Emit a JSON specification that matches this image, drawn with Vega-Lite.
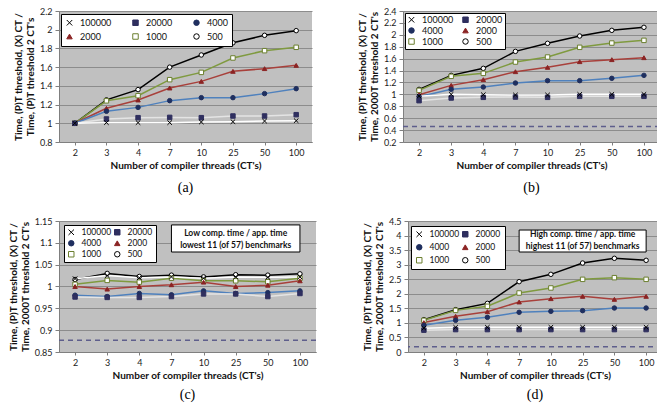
{
  "$schema": "https://vega.github.io/schema/vega-lite/v6.json",
  "background": "white",
  "padding": {"left": 8, "top": 7, "right": 5, "bottom": 2},
  "config": {
    "font": "Lato",
    "view": {"fill": "#c0c0c0", "stroke": null},
    "axis": {"labelFontSize": 9, "labelColor": "#222222", "titleFontSize": 10, "titleFontWeight": "bold", "titleColor": "#111111", "domainColor": "#7f7f7f", "tickColor": "#7f7f7f", "gridColor": "#8c8c8c"},
    "axisX": {"grid": false, "labelAngle": 0, "labelPadding": 3, "titlePadding": 3, "tickSize": 3},
    "axisY": {"grid": true, "tickSize": 4, "titlePadding": 4, "labelPadding": 3, "tickCount": 40},
    "legend": {"fillColor": "white", "strokeColor": "#000000", "padding": 4, "labelFontSize": 9, "labelColor": "#111111", "symbolSize": 30, "symbolStrokeWidth": 1, "labelOffset": 6, "columnPadding": 14, "rowPadding": 1, "symbolOpacity": 1},
    "title": {"orient": "bottom", "font": "Liberation Serif", "fontSize": 14, "fontWeight": "normal", "color": "#000000", "offset": 11}
  },
  "datasets": {
    "a": [
      {"s":"500","x":"2","v":1.0},{"s":"500","x":"3","v":1.25},{"s":"500","x":"4","v":1.36},{"s":"500","x":"7","v":1.6},{"s":"500","x":"10","v":1.73},{"s":"500","x":"25","v":1.86},{"s":"500","x":"50","v":1.94},{"s":"500","x":"100","v":1.99},
      {"s":"1000","x":"2","v":1.0},{"s":"1000","x":"3","v":1.24},{"s":"1000","x":"4","v":1.295},{"s":"1000","x":"7","v":1.466},{"s":"1000","x":"10","v":1.544},{"s":"1000","x":"25","v":1.698},{"s":"1000","x":"50","v":1.776},{"s":"1000","x":"100","v":1.812},
      {"s":"2000","x":"2","v":1.0},{"s":"2000","x":"3","v":1.16},{"s":"2000","x":"4","v":1.249},{"s":"2000","x":"7","v":1.377},{"s":"2000","x":"10","v":1.448},{"s":"2000","x":"25","v":1.555},{"s":"2000","x":"50","v":1.584},{"s":"2000","x":"100","v":1.619},
      {"s":"4000","x":"2","v":1.0},{"s":"4000","x":"3","v":1.128},{"s":"4000","x":"4","v":1.17},{"s":"4000","x":"7","v":1.242},{"s":"4000","x":"10","v":1.274},{"s":"4000","x":"25","v":1.274},{"s":"4000","x":"50","v":1.317},{"s":"4000","x":"100","v":1.37},
      {"s":"20000","x":"2","v":1.0},{"s":"20000","x":"3","v":1.046},{"s":"20000","x":"4","v":1.06},{"s":"20000","x":"7","v":1.063},{"s":"20000","x":"10","v":1.06},{"s":"20000","x":"25","v":1.078},{"s":"20000","x":"50","v":1.078},{"s":"20000","x":"100","v":1.092},
      {"s":"100000","x":"2","v":1.0},{"s":"100000","x":"3","v":1.007},{"s":"100000","x":"4","v":1.007},{"s":"100000","x":"7","v":1.007},{"s":"100000","x":"10","v":1.014},{"s":"100000","x":"25","v":1.017},{"s":"100000","x":"50","v":1.024},{"s":"100000","x":"100","v":1.028}
    ],
    "b": [
      {"s":"500","x":"2","v":1.084},{"s":"500","x":"3","v":1.319},{"s":"500","x":"4","v":1.437},{"s":"500","x":"7","v":1.722},{"s":"500","x":"10","v":1.857},{"s":"500","x":"25","v":1.98},{"s":"500","x":"50","v":2.075},{"s":"500","x":"100","v":2.126},
      {"s":"1000","x":"2","v":1.067},{"s":"1000","x":"3","v":1.303},{"s":"1000","x":"4","v":1.353},{"s":"1000","x":"7","v":1.543},{"s":"1000","x":"10","v":1.627},{"s":"1000","x":"25","v":1.79},{"s":"1000","x":"50","v":1.862},{"s":"1000","x":"100","v":1.907},
      {"s":"2000","x":"2","v":0.995},{"s":"2000","x":"3","v":1.151},{"s":"2000","x":"4","v":1.247},{"s":"2000","x":"7","v":1.381},{"s":"2000","x":"10","v":1.454},{"s":"2000","x":"25","v":1.549},{"s":"2000","x":"50","v":1.583},{"s":"2000","x":"100","v":1.616},
      {"s":"4000","x":"2","v":0.961},{"s":"4000","x":"3","v":1.084},{"s":"4000","x":"4","v":1.123},{"s":"4000","x":"7","v":1.19},{"s":"4000","x":"10","v":1.23},{"s":"4000","x":"25","v":1.23},{"s":"4000","x":"50","v":1.269},{"s":"4000","x":"100","v":1.319},
      {"s":"20000","x":"2","v":0.894},{"s":"20000","x":"3","v":0.939},{"s":"20000","x":"4","v":0.95},{"s":"20000","x":"7","v":0.955},{"s":"20000","x":"10","v":0.95},{"s":"20000","x":"25","v":0.967},{"s":"20000","x":"50","v":0.967},{"s":"20000","x":"100","v":0.967},
      {"s":"100000","x":"2","v":0.97},{"s":"100000","x":"3","v":1.0},{"s":"100000","x":"4","v":0.995},{"s":"100000","x":"7","v":0.99},{"s":"100000","x":"10","v":0.99},{"s":"100000","x":"25","v":1.0},{"s":"100000","x":"50","v":1.0},{"s":"100000","x":"100","v":1.0}
    ],
    "c": [
      {"s":"500","x":"2","v":1.016},{"s":"500","x":"3","v":1.03},{"s":"500","x":"4","v":1.023},{"s":"500","x":"7","v":1.026},{"s":"500","x":"10","v":1.022},{"s":"500","x":"25","v":1.027},{"s":"500","x":"50","v":1.026},{"s":"500","x":"100","v":1.029},
      {"s":"1000","x":"2","v":1.005},{"s":"1000","x":"3","v":1.014},{"s":"1000","x":"4","v":1.01},{"s":"1000","x":"7","v":1.019},{"s":"1000","x":"10","v":1.013},{"s":"1000","x":"25","v":1.013},{"s":"1000","x":"50","v":1.011},{"s":"1000","x":"100","v":1.019},
      {"s":"2000","x":"2","v":1.0},{"s":"2000","x":"3","v":0.994},{"s":"2000","x":"4","v":1.0},{"s":"2000","x":"7","v":1.004},{"s":"2000","x":"10","v":1.01},{"s":"2000","x":"25","v":1.0},{"s":"2000","x":"50","v":1.003},{"s":"2000","x":"100","v":1.013},
      {"s":"4000","x":"2","v":0.98},{"s":"4000","x":"3","v":0.977},{"s":"4000","x":"4","v":0.984},{"s":"4000","x":"7","v":0.981},{"s":"4000","x":"10","v":0.99},{"s":"4000","x":"25","v":0.984},{"s":"4000","x":"50","v":0.986},{"s":"4000","x":"100","v":0.99},
      {"s":"20000","x":"2","v":0.976},{"s":"20000","x":"3","v":0.975},{"s":"20000","x":"4","v":0.975},{"s":"20000","x":"7","v":0.977},{"s":"20000","x":"10","v":0.983},{"s":"20000","x":"25","v":0.983},{"s":"20000","x":"50","v":0.977},{"s":"20000","x":"100","v":0.984},
      {"s":"100000","x":"2","v":1.018},{"s":"100000","x":"3","v":1.025},{"s":"100000","x":"4","v":1.02},{"s":"100000","x":"7","v":1.022},{"s":"100000","x":"10","v":1.019},{"s":"100000","x":"25","v":1.022},{"s":"100000","x":"50","v":1.021},{"s":"100000","x":"100","v":1.022}
    ],
    "d": [
      {"s":"500","x":"2","v":1.11},{"s":"500","x":"3","v":1.454},{"s":"500","x":"4","v":1.67},{"s":"500","x":"7","v":2.416},{"s":"500","x":"10","v":2.668},{"s":"500","x":"25","v":3.057},{"s":"500","x":"50","v":3.218},{"s":"500","x":"100","v":3.149},
      {"s":"1000","x":"2","v":1.088},{"s":"1000","x":"3","v":1.43},{"s":"1000","x":"4","v":1.57},{"s":"1000","x":"7","v":2.027},{"s":"1000","x":"10","v":2.2},{"s":"1000","x":"25","v":2.496},{"s":"1000","x":"50","v":2.553},{"s":"1000","x":"100","v":2.496},
      {"s":"2000","x":"2","v":1.01},{"s":"2000","x":"3","v":1.225},{"s":"2000","x":"4","v":1.385},{"s":"2000","x":"7","v":1.717},{"s":"2000","x":"10","v":1.832},{"s":"2000","x":"25","v":1.912},{"s":"2000","x":"50","v":1.809},{"s":"2000","x":"100","v":1.912},
      {"s":"4000","x":"2","v":0.916},{"s":"4000","x":"3","v":1.088},{"s":"4000","x":"4","v":1.19},{"s":"4000","x":"7","v":1.363},{"s":"4000","x":"10","v":1.397},{"s":"4000","x":"25","v":1.42},{"s":"4000","x":"50","v":1.511},{"s":"4000","x":"100","v":1.511},
      {"s":"20000","x":"2","v":0.75},{"s":"20000","x":"3","v":0.77},{"s":"20000","x":"4","v":0.77},{"s":"20000","x":"7","v":0.77},{"s":"20000","x":"10","v":0.77},{"s":"20000","x":"25","v":0.77},{"s":"20000","x":"50","v":0.77},{"s":"20000","x":"100","v":0.77},
      {"s":"100000","x":"2","v":0.82},{"s":"100000","x":"3","v":0.85},{"s":"100000","x":"4","v":0.85},{"s":"100000","x":"7","v":0.85},{"s":"100000","x":"10","v":0.85},{"s":"100000","x":"25","v":0.85},{"s":"100000","x":"50","v":0.85},{"s":"100000","x":"100","v":0.85}
    ]
  },
  "resolve": {"scale": {"color": "independent", "shape": "independent", "fill": "independent", "stroke": "independent"}, "legend": {"color": "independent", "shape": "independent", "fill": "independent", "stroke": "independent"}},
  "vconcat": [
    {"resolve": {"scale": {"color": "independent", "shape": "independent", "fill": "independent", "stroke": "independent"}, "legend": {"color": "independent", "shape": "independent", "fill": "independent", "stroke": "independent"}},
     "hconcat": [
      {
        "width": 253, "height": 131,
        "title": "(a)",
        "data": {"name": "a"},
        "layer": [
          {"mark": {"type": "line", "strokeWidth": 1.5},
           "encoding": {
             "x": {"field": "x", "type": "ordinal", "scale": {"type": "point", "padding": 0.5, "domain": ["2","3","4","7","10","25","50","100"]}, "axis": {"title": "Number of compiler threads (CT's)"}},
             "y": {"field": "v", "type": "quantitative", "scale": {"domain": [0.8, 2.2], "nice": false, "zero": false}, "axis": {"values": [0.8,1,1.2,1.4,1.6,1.8,2,2.2], "format": "~g", "title": ["Time, (P)T threshold, (X) CT /", "Time, (P)T threshold 2 CT's"]}},
             "color": {"field": "s", "type": "nominal", "legend": null, "sort": ["100000","20000","4000","2000","1000","500"], "scale": {"range": ["#ffffff","#e4e4e4","#4f81bd","#a8403b","#7f9a3f","#000000"]}}
           }},
          {"mark": {"type": "point", "filled": true, "size": 20, "strokeWidth": 1, "opacity": 1},
           "encoding": {
             "x": {"field": "x", "type": "ordinal"},
             "y": {"field": "v", "type": "quantitative"},
             "shape": {"field": "s", "type": "nominal", "scale": {"domain": ["100000","20000","4000","2000","1000","500"], "range": ["M-1,-1L1,1M-1,1L1,-1","square","circle","triangle-up","square","circle"]},
               "legend": {"title": null, "orient": "none", "direction": "horizontal", "columns": 3, "legendX": 2, "legendY": 3, "rowPadding": 3, "columnPadding": 18}},
             "fill": {"field": "s", "type": "nominal", "scale": {"domain": ["100000","20000","4000","2000","1000","500"], "range": ["#000000","#2f2f5f","#1f2f5f","#8b2323","#ffffff","#ffffff"]},
               "legend": {"title": null, "orient": "none", "direction": "horizontal", "columns": 3, "legendX": 2, "legendY": 3, "rowPadding": 3, "columnPadding": 18}},
             "stroke": {"field": "s", "type": "nominal", "scale": {"domain": ["100000","20000","4000","2000","1000","500"], "range": ["#000000","#2f2f5f","#1f2f5f","#8b2323","#6b7f2f","#000000"]},
               "legend": {"title": null, "orient": "none", "direction": "horizontal", "columns": 3, "legendX": 2, "legendY": 3, "rowPadding": 3, "columnPadding": 18}}
           }}
        ]
      },
      {
        "width": 257, "height": 131,
        "title": "(b)",
        "data": {"name": "b"},
        "layer": [
          {"data": {"values": [{"y": 0.46}]}, "mark": {"type": "rule", "strokeDash": [5, 4], "color": "#5e5e8c", "strokeWidth": 1.5},
           "encoding": {"y": {"field": "y", "type": "quantitative"}}},
          {"mark": {"type": "line", "strokeWidth": 1.5},
           "encoding": {
             "x": {"field": "x", "type": "ordinal", "scale": {"type": "point", "padding": 0.5, "domain": ["2","3","4","7","10","25","50","100"]}, "axis": {"title": "Number of compiler threads (CT's)"}},
             "y": {"field": "v", "type": "quantitative", "scale": {"domain": [0.2, 2.4], "nice": false, "zero": false}, "axis": {"values": [0.2,0.4,0.6,0.8,1,1.2,1.4,1.6,1.8,2,2.2,2.4], "format": "~g", "title": ["Time, (P)T threshold, (X) CT /", "Time, 2000T threshold 2 CT's"]}},
             "color": {"field": "s", "type": "nominal", "legend": null, "sort": ["100000","20000","4000","2000","1000","500"], "scale": {"range": ["#ffffff","#e4e4e4","#4f81bd","#a8403b","#7f9a3f","#000000"]}}
           }},
          {"mark": {"type": "point", "filled": true, "size": 20, "strokeWidth": 1, "opacity": 1},
           "encoding": {
             "x": {"field": "x", "type": "ordinal"},
             "y": {"field": "v", "type": "quantitative"},
             "shape": {"field": "s", "type": "nominal", "scale": {"domain": ["100000","20000","4000","2000","1000","500"], "range": ["M-1,-1L1,1M-1,1L1,-1","square","circle","triangle-up","square","circle"]},
               "legend": {"title": null, "orient": "none", "direction": "horizontal", "columns": 2, "legendX": 2, "legendY": 2, "rowPadding": 0, "columnPadding": 6, "padding": 2}},
             "fill": {"field": "s", "type": "nominal", "scale": {"domain": ["100000","20000","4000","2000","1000","500"], "range": ["#000000","#2f2f5f","#1f2f5f","#8b2323","#ffffff","#ffffff"]},
               "legend": {"title": null, "orient": "none", "direction": "horizontal", "columns": 2, "legendX": 2, "legendY": 2, "rowPadding": 0, "columnPadding": 6, "padding": 2}},
             "stroke": {"field": "s", "type": "nominal", "scale": {"domain": ["100000","20000","4000","2000","1000","500"], "range": ["#000000","#2f2f5f","#1f2f5f","#8b2323","#6b7f2f","#000000"]},
               "legend": {"title": null, "orient": "none", "direction": "horizontal", "columns": 2, "legendX": 2, "legendY": 2, "rowPadding": 0, "columnPadding": 6, "padding": 2}}
           }}
        ]
      }
    ], "spacing": 45},
    {"resolve": {"scale": {"color": "independent", "shape": "independent", "fill": "independent", "stroke": "independent"}, "legend": {"color": "independent", "shape": "independent", "fill": "independent", "stroke": "independent"}},
     "hconcat": [
      {
        "width": 257, "height": 131,
        "title": {"text": "(c)", "offset": 8},
        "data": {"name": "c"},
        "layer": [
          {"data": {"values": [{"y": 0.877}]}, "mark": {"type": "rule", "strokeDash": [5, 4], "color": "#5e5e8c", "strokeWidth": 1.5},
           "encoding": {"y": {"field": "y", "type": "quantitative"}}},
          {"mark": {"type": "line", "strokeWidth": 1.5},
           "encoding": {
             "x": {"field": "x", "type": "ordinal", "scale": {"type": "point", "padding": 0.5, "domain": ["2","3","4","7","10","25","50","100"]}, "axis": {"title": "Number of compiler threads (CT's)"}},
             "y": {"field": "v", "type": "quantitative", "scale": {"domain": [0.85, 1.15], "nice": false, "zero": false}, "axis": {"values": [0.85,0.9,0.95,1,1.05,1.1,1.15], "format": "~g", "title": ["Time, (P)T threshold, (X) CT /", "Time, 2000T threshold 2 CT's"]}},
             "color": {"field": "s", "type": "nominal", "legend": null, "sort": ["100000","20000","4000","2000","1000","500"], "scale": {"range": ["#ffffff","#e4e4e4","#4f81bd","#a8403b","#7f9a3f","#000000"]}}
           }},
          {"mark": {"type": "point", "filled": true, "size": 20, "strokeWidth": 1, "opacity": 1},
           "encoding": {
             "x": {"field": "x", "type": "ordinal"},
             "y": {"field": "v", "type": "quantitative"},
             "shape": {"field": "s", "type": "nominal", "scale": {"domain": ["100000","20000","4000","2000","1000","500"], "range": ["M-1,-1L1,1M-1,1L1,-1","square","circle","triangle-up","square","circle"]},
               "legend": {"title": null, "orient": "none", "direction": "horizontal", "columns": 2, "legendX": 5, "legendY": 4, "rowPadding": 1, "columnPadding": 0, "padding": 3, "labelFontSize": 8.5}},
             "fill": {"field": "s", "type": "nominal", "scale": {"domain": ["100000","20000","4000","2000","1000","500"], "range": ["#000000","#2f2f5f","#1f2f5f","#8b2323","#ffffff","#ffffff"]},
               "legend": {"title": null, "orient": "none", "direction": "horizontal", "columns": 2, "legendX": 5, "legendY": 4, "rowPadding": 1, "columnPadding": 0, "padding": 3, "labelFontSize": 8.5}},
             "stroke": {"field": "s", "type": "nominal", "scale": {"domain": ["100000","20000","4000","2000","1000","500"], "range": ["#000000","#2f2f5f","#1f2f5f","#8b2323","#6b7f2f","#000000"]},
               "legend": {"title": null, "orient": "none", "direction": "horizontal", "columns": 2, "legendX": 5, "legendY": 4, "rowPadding": 1, "columnPadding": 0, "padding": 3, "labelFontSize": 8.5}}
           }},
          {"data": {"values": [{"x": "7", "x2": "100", "y": 1.141, "y2": 1.079}]}, "mark": {"type": "rect", "fill": "white", "stroke": "#000000", "strokeWidth": 1},
           "encoding": {"x": {"field": "x", "type": "ordinal"}, "x2": {"field": "x2"}, "y": {"field": "y", "type": "quantitative"}, "y2": {"field": "y2"}}},
          {"data": {"values": [{"x": "25", "y": 1.1218, "t": "Low comp. time / app. time"}, {"x": "25", "y": 1.0944, "t": "lowest 11 (of 57) benchmarks"}]}, "mark": {"type": "text", "fontWeight": "bold", "fontSize": 8.5, "color": "#111111", "baseline": "middle", "align": "center"},
           "encoding": {"x": {"field": "x", "type": "ordinal"}, "y": {"field": "y", "type": "quantitative"}, "text": {"field": "t"}}}
        ]
      },
      {
        "width": 254, "height": 131,
        "title": {"text": "(d)", "offset": 8},
        "data": {"name": "d"},
        "layer": [
          {"data": {"values": [{"y": 0.18}]}, "mark": {"type": "rule", "strokeDash": [5, 4], "color": "#5e5e8c", "strokeWidth": 1.5},
           "encoding": {"y": {"field": "y", "type": "quantitative"}}},
          {"mark": {"type": "line", "strokeWidth": 1.5},
           "encoding": {
             "x": {"field": "x", "type": "ordinal", "scale": {"type": "point", "padding": 0.5, "domain": ["2","3","4","7","10","25","50","100"]}, "axis": {"title": "Number of compiler threads (CT's)"}},
             "y": {"field": "v", "type": "quantitative", "scale": {"domain": [0, 4.5], "nice": false, "zero": false}, "axis": {"values": [0,0.5,1,1.5,2,2.5,3,3.5,4,4.5], "format": "~g", "title": ["Time, (P)T threshold, (X) CT /", "Time, 2000T threshold 2 CT's"]}},
             "color": {"field": "s", "type": "nominal", "legend": null, "sort": ["100000","20000","4000","2000","1000","500"], "scale": {"range": ["#ffffff","#e4e4e4","#4f81bd","#a8403b","#7f9a3f","#000000"]}}
           }},
          {"mark": {"type": "point", "filled": true, "size": 20, "strokeWidth": 1, "opacity": 1},
           "encoding": {
             "x": {"field": "x", "type": "ordinal"},
             "y": {"field": "v", "type": "quantitative"},
             "shape": {"field": "s", "type": "nominal", "scale": {"domain": ["100000","20000","4000","2000","1000","500"], "range": ["M-1,-1L1,1M-1,1L1,-1","square","circle","triangle-up","square","circle"]},
               "legend": {"title": null, "orient": "none", "direction": "horizontal", "columns": 2, "legendX": 3, "legendY": 5, "rowPadding": 3, "columnPadding": 0, "padding": 4, "labelFontSize": 8.5}},
             "fill": {"field": "s", "type": "nominal", "scale": {"domain": ["100000","20000","4000","2000","1000","500"], "range": ["#000000","#2f2f5f","#1f2f5f","#8b2323","#ffffff","#ffffff"]},
               "legend": {"title": null, "orient": "none", "direction": "horizontal", "columns": 2, "legendX": 3, "legendY": 5, "rowPadding": 3, "columnPadding": 0, "padding": 4, "labelFontSize": 8.5}},
             "stroke": {"field": "s", "type": "nominal", "scale": {"domain": ["100000","20000","4000","2000","1000","500"], "range": ["#000000","#2f2f5f","#1f2f5f","#8b2323","#6b7f2f","#000000"]},
               "legend": {"title": null, "orient": "none", "direction": "horizontal", "columns": 2, "legendX": 3, "legendY": 5, "rowPadding": 3, "columnPadding": 0, "padding": 4, "labelFontSize": 8.5}}
           }},
          {"data": {"values": [{"x": "7", "x2": "100", "y": 4.19, "y2": 3.435}]}, "mark": {"type": "rect", "fill": "white", "stroke": "#000000", "strokeWidth": 1},
           "encoding": {"x": {"field": "x", "type": "ordinal"}, "x2": {"field": "x2"}, "y": {"field": "y", "type": "quantitative"}, "y2": {"field": "y2"}}},
          {"data": {"values": [{"x": "25", "y": 4.043, "t": "High comp. time / app. time"}, {"x": "25", "y": 3.65, "t": "highest 11 (of 57) benchmarks"}]}, "mark": {"type": "text", "fontWeight": "bold", "fontSize": 8.5, "color": "#111111", "baseline": "middle", "align": "center"},
           "encoding": {"x": {"field": "x", "type": "ordinal"}, "y": {"field": "y", "type": "quantitative"}, "text": {"field": "t"}}}
        ]
      }
    ], "spacing": 45}
  ],
  "spacing": 22
}
